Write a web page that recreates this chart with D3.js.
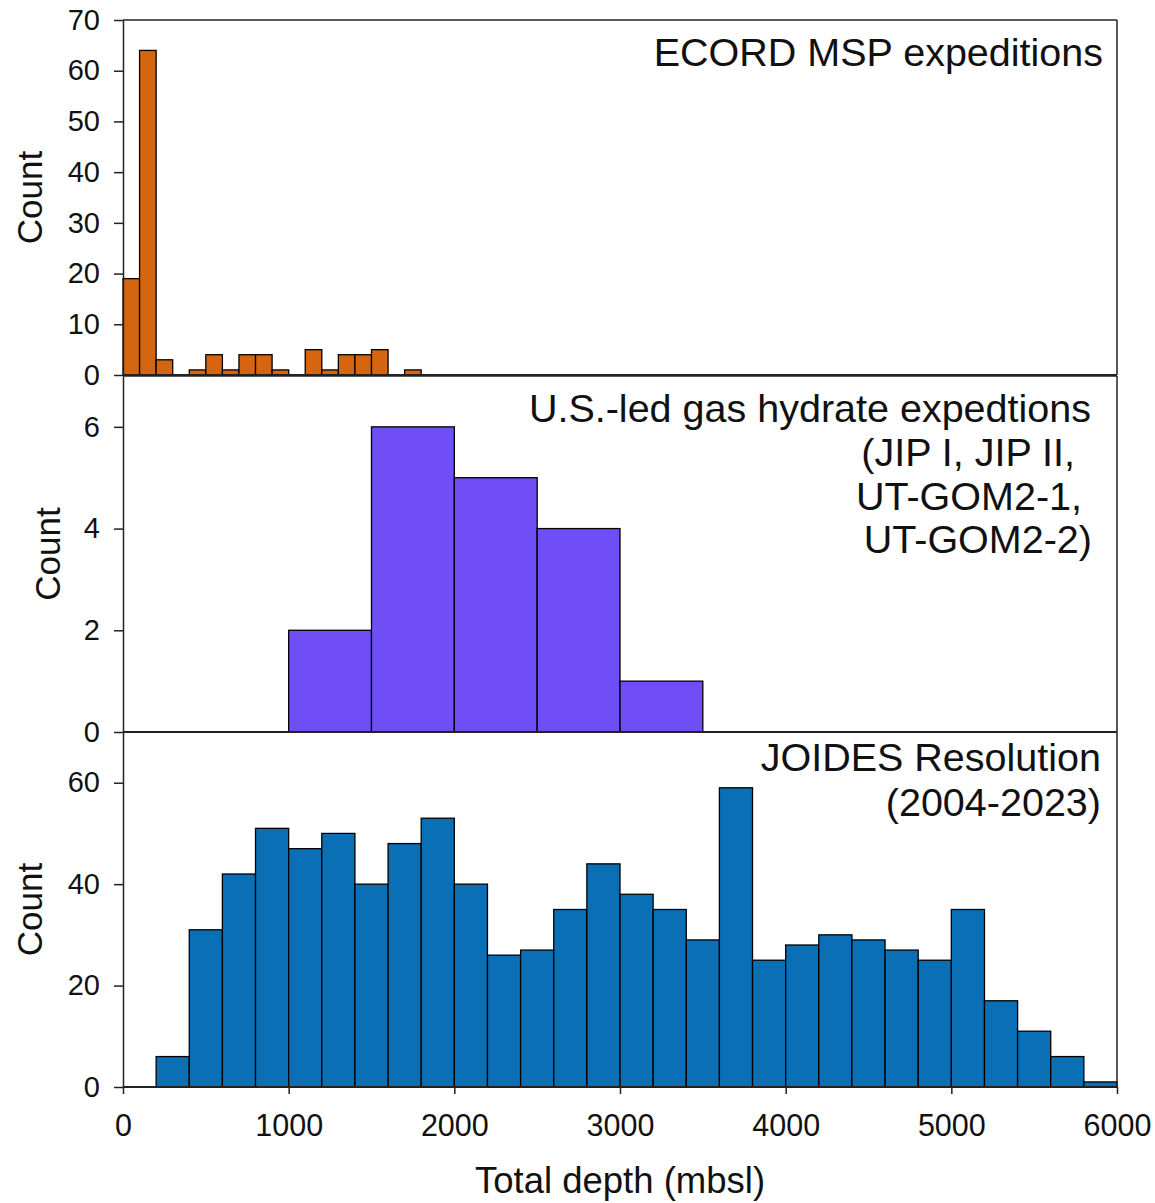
<!DOCTYPE html>
<html>
<head>
<meta charset="utf-8">
<script src="https://cdn.jsdelivr.net/npm/d3@7"></script>
<style>
  body { margin: 0; background: #fff; }
  text { font-family: "Liberation Sans", Arial, sans-serif; fill: #111; }
</style>
</head>
<body>
<div id="chart"></div>
<script>
// Histogram counts of total depth (mbsl) for three drilling programs
const mspStart = 0, mspStep = 100;
const mspCounts = [19, 64, 3, 0, 1, 4, 1, 4, 4, 1, 0, 5, 1, 4, 4, 5, 0, 1];

const hydrateStart = 1000, hydrateStep = 500;
const hydrateCounts = [2, 6, 5, 4, 1];

const jrStart = 200, jrStep = 200;
const jrCounts = [6, 31, 42, 51, 47, 50, 40, 48, 53, 40, 26, 27, 35, 44, 38,
                  35, 29, 59, 25, 28, 30, 29, 27, 25, 35, 17, 11, 6, 1];

const xTicks = [0, 1000, 2000, 3000, 4000, 5000, 6000];
const mspTicks = [0, 10, 20, 30, 40, 50, 60, 70];
const hydrateTicks = [0, 2, 4, 6];
const jrTicks = [0, 20, 40, 60];

const width = 1155;
const height = 1203;
const left = 123, right = 1117;

const svg = d3.select("#chart")
    .append("svg")
    .attr("width", width)
    .attr("height", height);

const x = d3.scaleLinear().domain([0, 6000]).range([left, right]);

function toBins(start, step, counts) {
    return counts.map((c, i) => ({ x0: start + i * step, x1: start + (i + 1) * step, count: c }));
}

const panels = [
    { top: 20, bottom: 375, max: 70, ticks: mspTicks, color: "#d5650f",
      bins: toBins(mspStart, mspStep, mspCounts), labelX: 42,
      title: [{ t: "ECORD MSP expeditions", x: 1103, y: 66 }] },
    { top: 376, bottom: 732, max: 7, ticks: hydrateTicks, color: "#6f4ef6",
      bins: toBins(hydrateStart, hydrateStep, hydrateCounts), labelX: 60,
      title: [
        { t: "U.S.-led gas hydrate expedtions", x: 1091, y: 422 },
        { t: "(JIP I, JIP II,", x: 1075, y: 466 },
        { t: "UT-GOM2-1,", x: 1082, y: 510 },
        { t: "UT-GOM2-2)", x: 1092, y: 553 }
      ] },
    { top: 732, bottom: 1087, max: 70, ticks: jrTicks, color: "#0b6fb5",
      bins: toBins(jrStart, jrStep, jrCounts), labelX: 42,
      title: [
        { t: "JOIDES Resolution", x: 1101, y: 771 },
        { t: "(2004-2023)", x: 1101, y: 816 }
      ] }
];

panels.forEach(p => {
    const y = d3.scaleLinear().domain([0, p.max]).range([p.bottom, p.top]);
    const g = svg.append("g");

    g.selectAll("rect")
        .data(p.bins.filter(d => d.count > 0))
        .enter().append("rect")
        .attr("x", d => x(d.x0))
        .attr("y", d => y(d.count))
        .attr("width", d => x(d.x1) - x(d.x0))
        .attr("height", d => y(0) - y(d.count))
        .attr("fill", p.color)
        .attr("stroke", "#000")
        .attr("stroke-width", 1.3);

    // frame: top and right border, baseline
    g.append("line")
        .attr("x1", left).attr("x2", right)
        .attr("y1", p.top).attr("y2", p.top)
        .attr("stroke", "#222").attr("stroke-width", 1.5);
    g.append("line")
        .attr("x1", right).attr("x2", right)
        .attr("y1", p.top).attr("y2", p.bottom)
        .attr("stroke", "#222").attr("stroke-width", 1.5);
    g.append("line")
        .attr("x1", left).attr("x2", right)
        .attr("y1", p.bottom).attr("y2", p.bottom)
        .attr("stroke", "#222").attr("stroke-width", 2);

    const yAxis = g.append("g")
        .attr("transform", `translate(${left},0)`)
        .call(d3.axisLeft(y).tickValues(p.ticks).tickFormat(d3.format("d"))
            .tickSize(9).tickPadding(14).tickSizeOuter(0));
    yAxis.select(".domain").attr("stroke", "#222").attr("stroke-width", 1.5);
    yAxis.selectAll(".tick line").attr("stroke", "#222").attr("stroke-width", 1.5);
    yAxis.selectAll(".tick text")
        .attr("font-size", 29)
        .attr("font-family", "Liberation Sans, Arial, sans-serif")
        .attr("fill", "#111");

    g.append("text")
        .attr("transform", `translate(${p.labelX},${(p.top + p.bottom) / 2}) rotate(-90)`)
        .attr("text-anchor", "middle")
        .attr("font-size", 35)
        .text("Count");

    g.selectAll(".title")
        .data(p.title)
        .enter().append("text")
        .attr("class", "title")
        .attr("x", d => d.x)
        .attr("y", d => d.y)
        .attr("text-anchor", "end")
        .attr("font-size", 39.5)
        .text(d => d.t);
});

const xAxis = svg.append("g")
    .attr("transform", "translate(0,1087)")
    .call(d3.axisBottom(x).tickValues(xTicks).tickFormat(d3.format("d"))
        .tickSize(7).tickPadding(20).tickSizeOuter(0));
xAxis.select(".domain").remove();
xAxis.selectAll(".tick line").attr("stroke", "#222").attr("stroke-width", 1.5);
xAxis.selectAll(".tick text")
    .attr("font-size", 30.5)
    .attr("font-family", "Liberation Sans, Arial, sans-serif")
    .attr("fill", "#111");

svg.append("text")
    .attr("x", x(3000))
    .attr("y", 1193)
    .attr("text-anchor", "middle")
    .attr("font-size", 36.5)
    .text("Total depth (mbsl)");
</script>
</body>
</html>
